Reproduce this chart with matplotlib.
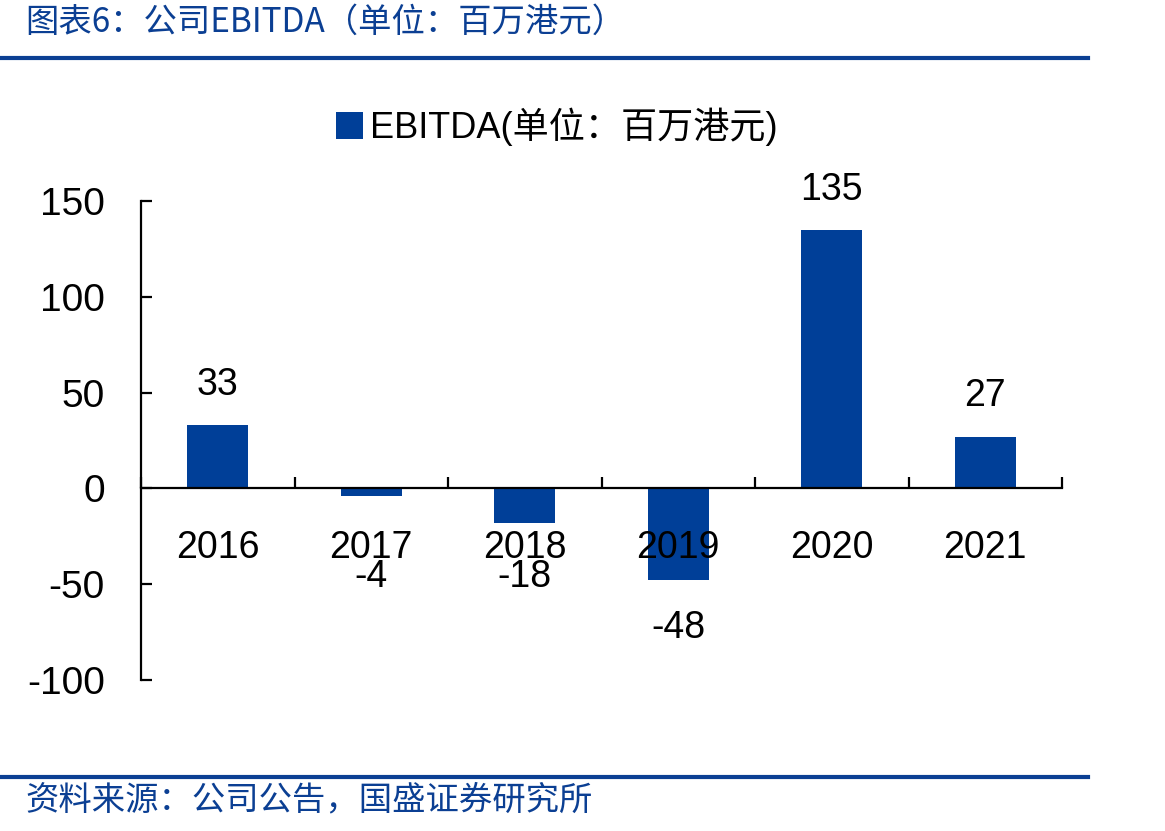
import matplotlib
matplotlib.use('Agg')
import matplotlib.pyplot as plt
from matplotlib.lines import Line2D

plt.rcParams['font.family'] = ['Liberation Sans', 'Noto Sans CJK SC', 'DejaVu Sans']

years = ['2016', '2017', '2018', '2019', '2020', '2021']
ebitda = [33, -4, -18, -48, 135, 27]
yticks = [-100, -50, 0, 50, 100, 150]

bar_color = '#003f98'
title_blue = '#0b3f93'

fig = plt.figure(figsize=(11.65, 8.31), dpi=100)
ax = fig.add_axes([141/1165, 1 - 680/831, (1062 - 141)/1165, (680 - 201)/831])

x = list(range(len(years)))
ax.bar(x, ebitda, width=0.4, color=bar_color, label='EBITDA(单位：百万港元)', zorder=2)
ax.set_axisbelow(False)  # year labels drawn over the bars

ax.set_xlim(-0.5, len(years) - 0.5)
ax.set_ylim(-100, 150)
ax.set_yticks(yticks)
ax.set_yticklabels([str(v) for v in yticks], fontsize=28)

# x axis sits on zero, boundary ticks point up
for s in ['top', 'right']:
    ax.spines[s].set_visible(False)
ax.spines['bottom'].set_position(('data', 0))
ax.spines['bottom'].set_linewidth(1.6)
ax.spines['left'].set_linewidth(1.6)
ax.spines['bottom'].set_zorder(3)
ax.set_xticks([i - 0.5 for i in range(len(years) + 1)])
ax.set_xticklabels([])
ax.tick_params(axis='x', which='major', direction='in', length=8, width=1.6)
ax.set_xticks(x, minor=True)
ax.set_xticklabels(years, minor=True, fontsize=27)
ax.tick_params(axis='x', which='minor', length=0, pad=30)
ax.tick_params(axis='y', direction='in', length=8, width=1.6, pad=26)

# value labels
for i, v in enumerate(ebitda):
    if v >= 0:
        ypos = v + 21
    else:
        ypos = min(v - 25, -46)
    ax.text(i, ypos, str(v), ha='center', va='center', fontsize=27)

leg = ax.legend(loc='center', bbox_to_anchor=(557/1165, 1 - 127/831),
                bbox_transform=fig.transFigure, frameon=False,
                fontsize=26, handlelength=0.75, handleheight=0.75,
                handletextpad=0.2)

# header and footer
fig.text(25/1165, 1 - 22/831, '图表6：公司EBITDA（单位：百万港元）', color=title_blue,
         fontsize=24, ha='left', va='center', style='italic',
         family=['Noto Sans CJK SC', 'DejaVu Sans'])
fig.add_artist(Line2D([0, 1088/1165], [1 - 58/831] * 2, color=title_blue, lw=3))
fig.add_artist(Line2D([0, 1088/1165], [1 - 777/831] * 2, color=title_blue, lw=3))
fig.text(25/1165, 1 - 800/831, '资料来源：公司公告，国盛证券研究所', color=title_blue,
         fontsize=24, ha='left', va='center', style='italic',
         family=['Noto Sans CJK SC', 'DejaVu Sans'])

fig.savefig('out.png', dpi=100)
